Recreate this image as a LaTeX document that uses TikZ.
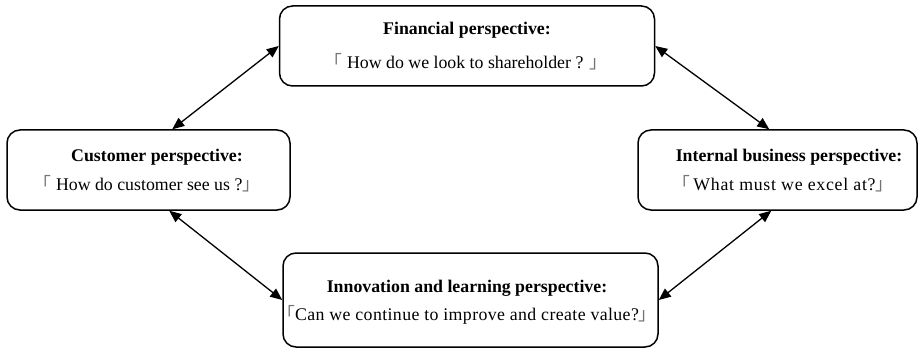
\documentclass[tikz,border=0pt]{standalone}
\usepackage{fontspec}
\setmainfont{Liberation Serif}
\newfontfamily\cjk{Noto Sans CJK SC}
\usetikzlibrary{arrows.meta,calc}
\tikzset{
  pbox/.style={draw, line width=1.5pt, rounded corners=13pt, inner sep=0pt},
  ttl/.style={font=\fontsize{17.8}{20}\selectfont\bfseries, inner sep=0pt},
  qst/.style={font=\fontsize{17.8}{20}\selectfont, inner sep=0pt},
  qstw/.style={font=\fontsize{17.8}{20}\selectfont\addfontfeature{LetterSpace=4}, inner sep=0pt},
  qstv/.style={font=\fontsize{17.8}{20}\selectfont\addfontfeature{LetterSpace=2.2}, inner sep=0pt},
  conn/.style={line width=1.3pt, {Triangle[length=12pt,width=10pt]}-{Triangle[length=12pt,width=10pt]}}
}
\newcommand{\lb}{{\cjk\color{black!55}「}}
\newcommand{\rb}{{\cjk\color{black!55}」}}
\begin{document}
\begin{tikzpicture}[x=1pt,y=-1pt]
\useasboundingbox (0,0) rectangle (924,350);
\node[pbox, minimum width=375pt, minimum height=80pt] (fin) at (467,46) {};
\node[pbox, minimum width=283pt, minimum height=80pt] (cus) at (148.5,170) {};
\node[pbox, minimum width=279pt, minimum height=80pt] (int) at (777.5,170) {};
\node[pbox, minimum width=375pt, minimum height=94pt] (inn) at (470.5,300) {};
\node[ttl] (fint) at (467,30) {Financial perspective:};
\node[qst] (finq) at (466,62) {\lb\ How do we look to shareholder ? \rb};
\node[ttl] (cust) at (157,157) {Customer perspective:};
\node[qst] (cusq) at (147,184) {\lb\ How do customer see us ?\rb};
\node[ttl] (intt) at (789,157) {Internal business perspective:};
\node[qstw] (intq) at (783,184) {\lb\,What must we excel at?\rb};
\node[ttl] (innt) at (467,288) {Innovation and learning perspective:};
\node[qstv] (innq) at (467,315) {\lb Can we continue to improve and create value?\rb};
\draw[conn] ($(cus.north west)+(166,0)$) -- (fin.west);
\draw[conn] (fin.east) -- ($(int.north west)+(132,0)$);
\draw[conn] ($(cus.south west)+(163,0)$) -- (inn.west);
\draw[conn] ($(int.south west)+(134,0)$) -- (inn.east);
\end{tikzpicture}
\end{document}
